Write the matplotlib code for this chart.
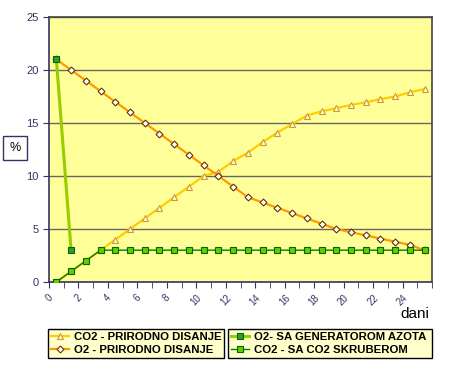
import numpy as np
import matplotlib
matplotlib.use("Agg")
from matplotlib import pyplot as plt

plt.rcParams['font.family'] = ['Liberation Sans', 'DejaVu Sans']

# days (categories 0..25)
days = np.arange(26)
co2_natural = [0, 1, 2, 3, 4, 5, 6, 7, 8, 9, 10, 10.4, 11.4, 12.2, 13.2, 14.1,
               14.9, 15.7, 16.1, 16.4, 16.7, 16.95, 17.25, 17.5, 17.9, 18.2]
o2_natural = [21, 20, 19, 18, 17, 16, 15, 14, 13, 12, 11, 10, 9, 8, 7.5, 7,
              6.5, 6, 5.5, 5, 4.7, 4.4, 4.1, 3.8, 3.5, 3.0]
o2_generator = [21, 3]
co2_scrubber = [0, 1, 2] + [3] * 23

labels = ["CO2 - PRIRODNO DISANJE", "O2 - PRIRODNO DISANJE",
          "O2- SA GENERATOROM AZOTA", "CO2 - SA CO2 SKRUBEROM"]
y_ticks = [0, 5, 10, 15, 20, 25]
x_labels = list(range(0, 26, 2))

navy = '#333366'

fig = plt.figure(figsize=(4.64, 3.82), dpi=100)
ax = fig.add_axes([49 / 464, 1 - 282 / 382, 383 / 464, 265 / 382])
ax.set_facecolor('#ffff99')

x = days + 0.5
l1, = ax.plot(x, co2_natural, color='#ffcc00', lw=1.6, marker='^', ms=4.5,
              mfc='#ffffcc', mec='#cc9933', mew=0.8, zorder=3)
l2, = ax.plot(x, o2_natural, color='#ff9900', lw=1.6, marker='D', ms=3.5,
              mfc='white', mec='#663300', mew=0.8, zorder=4)
l3, = ax.plot(x[:2], o2_generator, color='#99cc00', lw=2.2, marker='s', ms=5,
              mfc='#339933', mec='#006600', mew=0.8, zorder=6)
l4, = ax.plot(x, co2_scrubber, color='#008000', lw=1.0, marker='s', ms=5,
              mfc='#66cc00', mec='#006600', mew=0.8, zorder=5)

ax.set_xlim(0, 26)
ax.set_ylim(0, 25)
ax.set_yticks(y_ticks)
ax.set_yticklabels([str(v) for v in y_ticks], fontsize=8, color=navy)
ax.set_xticks(np.arange(0, 27), minor=True)
ax.set_xticks(x_labels)
ax.set_xticklabels([str(v) for v in x_labels], fontsize=7, color=navy,
                   rotation=45, ha='center')
ax.tick_params(axis='x', which='both', length=4, color=navy, direction='out')
ax.tick_params(axis='y', length=4, color=navy, direction='out')
ax.grid(axis='y', color='#666666', lw=1)
ax.set_axisbelow(True)
for s in ['left', 'bottom']:
    ax.spines[s].set_color(navy)
    ax.spines[s].set_linewidth(1.2)
for s in ['top', 'right']:
    ax.spines[s].set_color('#444444')
    ax.spines[s].set_linewidth(1.2)

fig.text(415 / 464, 1 - 314 / 382, 'dani', fontsize=11, ha='center',
         va='center', color='black')
fig.text(15 / 464, 1 - 148 / 382, '%', fontsize=9, ha='center', va='center',
         color='black',
         bbox=dict(boxstyle='square,pad=0.5', fc='white', ec=navy, lw=1))

leg_kw = dict(mode='expand', loc='center', fontsize=8.2, frameon=True,
              fancybox=False, edgecolor='black', facecolor='#ffffcc',
              framealpha=1, handlelength=1.6, handletextpad=0.4,
              borderaxespad=0, labelspacing=0.25, borderpad=0.25)
lg1 = fig.legend([l1, l2], labels[:2],
                 bbox_to_anchor=(48 / 464, 1 - 363 / 382, 176 / 464, 39 / 382),
                 **leg_kw)
lg2 = fig.legend([l3, l4], labels[2:],
                 bbox_to_anchor=(228 / 464, 1 - 363 / 382, 204 / 464, 39 / 382),
                 **leg_kw)
for lg in (lg1, lg2):
    lg.get_frame().set_linewidth(1.0)
    for t in lg.get_texts():
        t.set_fontweight('bold')

fig.savefig('out.png', dpi=100)
